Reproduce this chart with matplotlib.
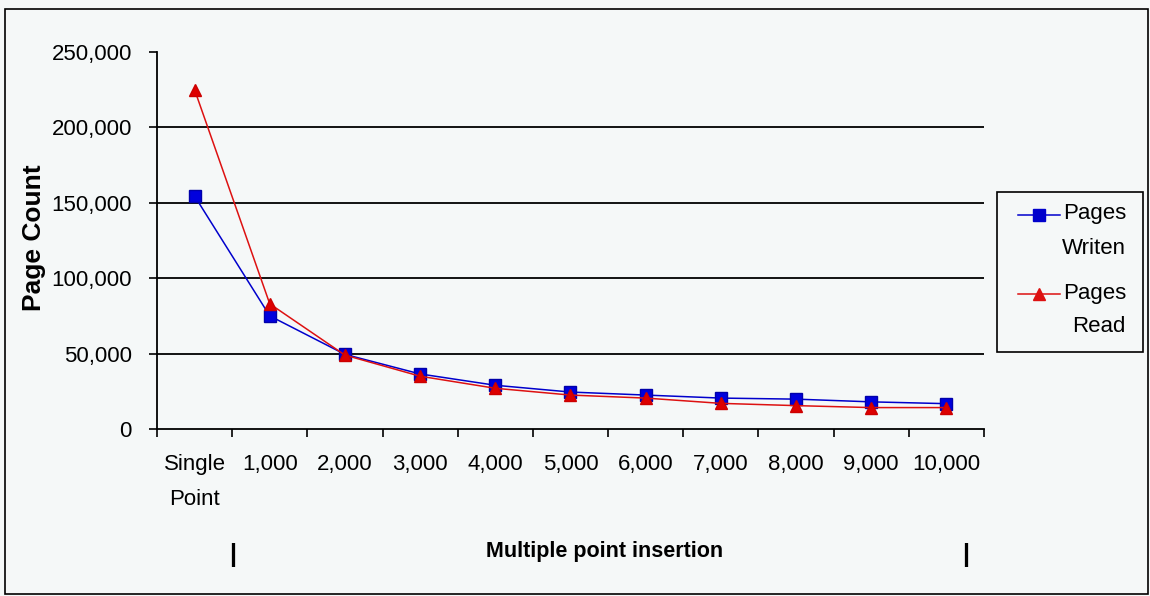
import matplotlib
matplotlib.use('Agg')
import matplotlib.pyplot as plt
from matplotlib import font_manager
from matplotlib.patches import Rectangle
from matplotlib.lines import Line2D
from matplotlib.ticker import FuncFormatter, FixedLocator

# insertion batch sizes and page counts
categories = ['Single\nPoint', '1,000', '2,000', '3,000', '4,000', '5,000',
              '6,000', '7,000', '8,000', '9,000', '10,000']
pages_written = [154500, 75000, 49500, 36500, 29000, 24500, 22500, 20500, 19800, 18000, 16800]
pages_read = [225000, 83000, 49000, 35000, 27000, 22500, 20500, 17000, 15500, 14200, 14200]
y_ticks = [0, 50000, 100000, 150000, 200000, 250000]

names = {f.name for f in font_manager.fontManager.ttflist}
narrow = 'Liberation Sans Narrow' if 'Liberation Sans Narrow' in names else 'Liberation Sans'
plt.rcParams['font.family'] = [narrow, 'DejaVu Sans']

W, H = 1150, 596
bg = '#f5f8f8'
blue = '#0000cc'
red = '#dd1111'


def px(x, y):
    # pixel position (from top-left) to figure fraction
    return x / W, 1 - y / H


fig = plt.figure(figsize=(W / 100, H / 100), dpi=100, facecolor=bg)
ax = fig.add_axes([0.1365, 0.2802, 0.7191, 0.6326])
ax.set_facecolor(bg)

x = list(range(len(categories)))
ax.plot(x, pages_written, color=blue, lw=1.1, marker='s', ms=8,
        mfc='#0000dd', mec='#0000aa', zorder=3)
ax.plot(x, pages_read, color=red, lw=1.1, marker='^', ms=9,
        mfc='#dd0000', mec='#cc0000', zorder=4)

ax.set_xlim(-0.5, len(categories) - 0.5)
ax.set_ylim(0, 250000)
ax.set_yticks(y_ticks)
ax.yaxis.set_major_formatter(FuncFormatter(lambda v, p: f'{int(v):,}'))
for v in y_ticks[1:-1]:
    ax.axhline(v, color='black', lw=1.3, zorder=1)

# tick marks sit between categories, labels under the category centres
ax.xaxis.set_major_locator(FixedLocator([i - 0.5 for i in range(len(categories) + 1)]))
ax.xaxis.set_minor_locator(FixedLocator(x))
ax.set_xticklabels([])
ax.set_xticklabels(categories, minor=True, fontsize=16, linespacing=1.85)
ax.tick_params(axis='x', which='minor', length=0, pad=18)
ax.tick_params(axis='x', which='major', length=6, width=1.2, direction='out')
ax.tick_params(axis='y', length=6, width=1.2, labelsize=16, pad=12)

for s in ['top', 'right']:
    ax.spines[s].set_visible(False)
for s in ['left', 'bottom']:
    ax.spines[s].set_linewidth(1.3)

bold = dict(fontweight='bold', family='Liberation Sans', ha='center', va='center')
fig.text(*px(34, 238), 'Page Count', fontsize=19, rotation=90, **bold)
fig.text(*px(605, 552), 'Multiple point insertion', fontsize=15.5, **bold)
fig.text(*px(233, 555), '|', fontsize=18, **bold)
fig.text(*px(966, 555), '|', fontsize=18, **bold)

# legend box drawn by hand: handle beside the first line, text right aligned
fig.patches.append(Rectangle(px(997, 352), 146 / W, 160 / H, transform=fig.transFigure,
                             fill=False, edgecolor='black', lw=1.2))
legend_rows = [
    ('Pages', 'Writen', blue, 's', 8, 215),
    ('Pages', 'Read', red, '^', 9, 294),
]
for top, bottom, col, mk, size, yy in legend_rows:
    x0, y0 = px(1018, yy)
    x1, _ = px(1060, yy)
    xm, _ = px(1039, yy)
    fig.add_artist(Line2D([x0, x1], [y0, y0], color=col, lw=1.1, transform=fig.transFigure))
    fig.add_artist(Line2D([xm], [y0], color=col, marker=mk, ms=size, transform=fig.transFigure))
    fig.text(*px(1126, yy - 1), top, fontsize=16, ha='right', va='center')
    fig.text(*px(1126, yy + 33), bottom, fontsize=16, ha='right', va='center')

# outer chart frame
fig.patches.append(Rectangle((0.0045, 0.003), 0.9935, 0.982, transform=fig.transFigure,
                             fill=False, edgecolor='black', lw=1.2))

plt.savefig('out.png', dpi=100, facecolor=bg)
